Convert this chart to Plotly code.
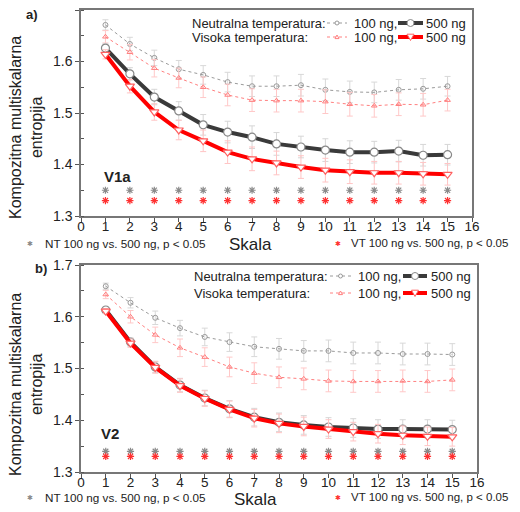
import plotly.graph_objects as go

# scale (Skala)
skala = list(range(1, 16))

# panel a) V1a
a_nt100 = [1.671, 1.634, 1.607, 1.585, 1.574, 1.560, 1.552, 1.552, 1.554, 1.545, 1.541, 1.540, 1.545, 1.547, 1.552]
a_vt100 = [1.648, 1.618, 1.587, 1.568, 1.550, 1.535, 1.525, 1.524, 1.524, 1.522, 1.517, 1.514, 1.517, 1.516, 1.525]
a_nt500 = [1.626, 1.576, 1.531, 1.504, 1.477, 1.463, 1.453, 1.440, 1.434, 1.428, 1.424, 1.424, 1.426, 1.418, 1.419]
a_vt500 = [1.614, 1.552, 1.502, 1.467, 1.446, 1.424, 1.411, 1.403, 1.395, 1.389, 1.386, 1.384, 1.384, 1.382, 1.381]
a_nt100_err = [0.010, 0.013, 0.015, 0.017, 0.018, 0.019, 0.020, 0.020, 0.021, 0.021, 0.021, 0.020, 0.020, 0.020, 0.019]
a_vt100_err = [0.012, 0.015, 0.017, 0.019, 0.020, 0.021, 0.022, 0.022, 0.022, 0.023, 0.023, 0.022, 0.022, 0.022, 0.021]
a_nt500_err = [0.008, 0.012, 0.015, 0.018, 0.020, 0.021, 0.022, 0.022, 0.021, 0.022, 0.022, 0.021, 0.021, 0.021, 0.020]
a_vt500_err = [0.009, 0.013, 0.016, 0.019, 0.021, 0.022, 0.023, 0.023, 0.022, 0.023, 0.023, 0.022, 0.022, 0.022, 0.021]
a_sig_nt = [1.35] * 15
a_sig_vt = [1.33] * 15

# panel b) V2
b_nt100 = [1.659, 1.627, 1.598, 1.578, 1.561, 1.551, 1.542, 1.538, 1.534, 1.534, 1.530, 1.530, 1.528, 1.528, 1.527]
b_vt100 = [1.643, 1.600, 1.565, 1.540, 1.522, 1.503, 1.491, 1.483, 1.480, 1.476, 1.475, 1.475, 1.476, 1.475, 1.478]
b_nt500 = [1.613, 1.551, 1.503, 1.468, 1.443, 1.422, 1.406, 1.396, 1.391, 1.387, 1.385, 1.383, 1.383, 1.383, 1.382]
b_vt500 = [1.611, 1.549, 1.502, 1.467, 1.442, 1.421, 1.404, 1.394, 1.388, 1.383, 1.378, 1.374, 1.371, 1.369, 1.368]
b_nt100_err = [0.006, 0.010, 0.013, 0.015, 0.017, 0.018, 0.019, 0.020, 0.020, 0.021, 0.021, 0.021, 0.021, 0.021, 0.021]
b_vt100_err = [0.008, 0.012, 0.015, 0.017, 0.018, 0.019, 0.020, 0.020, 0.021, 0.021, 0.021, 0.021, 0.021, 0.021, 0.021]
b_nt500_err = [0.005, 0.008, 0.011, 0.013, 0.015, 0.016, 0.017, 0.018, 0.018, 0.018, 0.018, 0.018, 0.018, 0.018, 0.018]
b_vt500_err = [0.005, 0.008, 0.011, 0.013, 0.015, 0.016, 0.017, 0.018, 0.018, 0.018, 0.018, 0.018, 0.018, 0.018, 0.018]
b_sig_nt = [1.34] * 15
b_sig_vt = [1.33] * 15

# the page body has an 8px margin, so the figure is 8px smaller and positions are shifted
OFF = 8
W, H = 520 - OFF, 512 - OFF
FONT = "Liberation Sans, Arial, sans-serif"
GRAY_D = "#3a3a3a"
GRAY_L = "#9a9a9a"
RED = "#ff0000"
RED_L = "#ff8080"


def px(x):
    return (x - OFF) / W


def py(y):
    return 1 - (y - OFF) / H


def add_panel(fig, xa, ya, nt100, vt100, nt500, vt500, e1, e2, e3, e4, sig_nt, sig_vt):
    fig.add_trace(go.Scatter(
        x=skala, y=nt100, xaxis=xa, yaxis=ya, mode="lines+markers",
        line=dict(color=GRAY_L, width=1, dash="dot"),
        marker=dict(symbol="circle-open", size=5, color=GRAY_L, line=dict(width=1)),
        error_y=dict(type="data", array=e1, color="#d8d8d8", thickness=1, width=3)))
    fig.add_trace(go.Scatter(
        x=skala, y=vt100, xaxis=xa, yaxis=ya, mode="lines+markers",
        line=dict(color=RED_L, width=1, dash="dot"),
        marker=dict(symbol="triangle-up-open", size=5, color=RED_L, line=dict(width=1)),
        error_y=dict(type="data", array=e2, color="#ffc8c8", thickness=1, width=3)))
    fig.add_trace(go.Scatter(
        x=skala, y=nt500, xaxis=xa, yaxis=ya, mode="lines+markers",
        line=dict(color=GRAY_D, width=4),
        marker=dict(symbol="circle", size=8, color="white", line=dict(color="#888888", width=1.2)),
        error_y=dict(type="data", array=e3, color="#d6d6d6", thickness=1, width=3)))
    fig.add_trace(go.Scatter(
        x=skala, y=vt500, xaxis=xa, yaxis=ya, mode="lines+markers",
        line=dict(color=RED, width=4),
        marker=dict(symbol="triangle-down", size=8, color="white", line=dict(color="#ff6060", width=1.2)),
        error_y=dict(type="data", array=e4, color="#ffc4c4", thickness=1, width=3)))
    fig.add_trace(go.Scatter(
        x=skala, y=sig_nt, xaxis=xa, yaxis=ya, mode="markers",
        marker=dict(symbol="asterisk-open", size=6, color="#8a8a8a", line=dict(color="#8a8a8a", width=1.2))))
    fig.add_trace(go.Scatter(
        x=skala, y=sig_vt, xaxis=xa, yaxis=ya, mode="markers",
        marker=dict(symbol="asterisk-open", size=6, color="#ff3030", line=dict(color="#ff3030", width=1.2))))


fig = go.Figure()
add_panel(fig, "x", "y", a_nt100, a_vt100, a_nt500, a_vt500,
          a_nt100_err, a_vt100_err, a_nt500_err, a_vt500_err, a_sig_nt, a_sig_vt)
add_panel(fig, "x2", "y2", b_nt100, b_vt100, b_nt500, b_vt500,
          b_nt100_err, b_vt100_err, b_nt500_err, b_vt500_err, b_sig_nt, b_sig_vt)

xax = dict(range=[0, 16], dtick=1, tick0=0, ticks="outside", ticklen=4, tickcolor="#555",
           showline=True, linecolor="#777", linewidth=1.5, mirror=True, showgrid=False,
           zeroline=False, automargin=False, ticklabelstandoff=-7,
           tickfont=dict(size=13.5, color="#222"))
yax = dict(range=[1.3, 1.7], dtick=0.1, ticks="outside", ticklen=4, tickcolor="#555",
           tickformat=".1f", showline=True, linecolor="#777", linewidth=1.5, mirror=True,
           showgrid=False, zeroline=False, automargin=False, tickfont=dict(size=14, color="#222"),
           minor=dict(dtick=0.05, ticks="inside", ticklen=3, tickcolor="#555"))

fig.update_layout(
    width=W, height=H, margin=dict(l=0, r=0, t=0, b=0, autoexpand=False),
    paper_bgcolor="white", plot_bgcolor="white", showlegend=False,
    font=dict(family=FONT, color="#222"),
    xaxis=dict(xax, domain=[px(81), px(472)], anchor="y"),
    yaxis=dict(yax, domain=[py(216), py(10)], anchor="x"),
    xaxis2=dict(xax, domain=[px(81), px(477)], anchor="y2"),
    yaxis2=dict(yax, domain=[py(472), py(265)], anchor="x2"),
)

ann = []
shapes = []


def text(x, y, s, size=13, anchor="left", bold=False, color="#222"):
    ann.append(dict(x=px(x), y=py(y), xref="paper", yref="paper", text=f"<b>{s}</b>" if bold else s,
                    showarrow=False, xanchor=anchor, yanchor="middle", borderpad=0,
                    font=dict(size=size, family=FONT, color=color)))


def ytitle(xc, yc):
    ann.append(dict(x=px(xc), y=py(yc), xref="paper", yref="paper",
                    text="Kompozitna multiskalarna<br>entropija", textangle=-90, showarrow=False,
                    xanchor="center", yanchor="middle", font=dict(size=16, family=FONT, color="#222")))


def key(x0, x1, y, color, width, dash, symbol, msize, fill, mline):
    shapes.append(dict(type="line", xref="paper", yref="paper", x0=px(x0), x1=px(x1), y0=py(y), y1=py(y),
                       line=dict(color=color, width=width, dash=dash)))
    xc = (x0 + x1) / 2
    r = msize / 2
    if symbol == "circle":
        shapes.append(dict(type="circle", xref="paper", yref="paper", x0=px(xc - r), x1=px(xc + r),
                           y0=py(y + r), y1=py(y - r), fillcolor=fill, line=dict(color=mline, width=1)))
    else:
        s = 1 if symbol == "up" else -1
        path = (f"M {px(xc - r)} {py(y + s * r * 0.8)} L {px(xc + r)} {py(y + s * r * 0.8)} "
                f"L {px(xc)} {py(y - s * r)} Z")
        shapes.append(dict(type="path", xref="paper", yref="paper", path=path, fillcolor=fill,
                           line=dict(color=mline, width=1)))


def legend_block(lx, r1, r2, s1, t1, s2, t2):
    text(lx, r1, "Neutralna temperatura:")
    text(lx, r2, "Visoka temperatura:")
    for r, c1, c2, sym1, sym2, mc in [(r1, GRAY_L, GRAY_D, "circle", "circle", "#888888"),
                                      (r2, RED_L, RED, "up", "down", "#ff6060")]:
        key(s1[0], s1[1], r, c1, 1, "dot", sym1, 4, "white", c1)
        text(t1, r, "100 ng,")
        key(s2[0], s2[1], r, c2, 4, "solid", sym2, 7, "white", mc)
        text(t2, r, "500 ng")


# panel a annotations
text(25, 15, "a)", size=13, bold=True)
text(103, 177, "V1a", size=15, bold=True)
legend_block(191, 23, 37, (327, 347), 353, (398, 423), 425)
ytitle(26, 128)
text(250, 244, "Skala", size=17, anchor="center")
text(30, 243, "✱", size=7, anchor="center", color="#8a8a8a")
text(44, 243, "NT 100 ng vs. 500 ng, p < 0.05", size=11.7)
text(338, 243, "✱", size=7, anchor="center", color="#ff3030")
text(350, 243, "VT 100 ng vs. 500 ng, p < 0.05", size=11.5)

# panel b annotations
text(34, 268, "b)", size=13, bold=True)
text(100, 433, "V2", size=15, bold=True)
legend_block(193, 276, 293, (330, 351), 357, (403, 427), 430)
ytitle(26, 385)
text(255, 499, "Skala", size=17, anchor="center")
text(30, 497, "✱", size=7, anchor="center", color="#8a8a8a")
text(44, 497, "NT 100 ng vs. 500 ng, p < 0.05", size=11.7)
text(338, 497, "✱", size=7, anchor="center", color="#ff3030")
text(350, 497, "VT 100 ng vs. 500 ng, p < 0.05", size=11.5)

fig.update_layout(annotations=ann, shapes=shapes)

fig.write_html("out.html")
